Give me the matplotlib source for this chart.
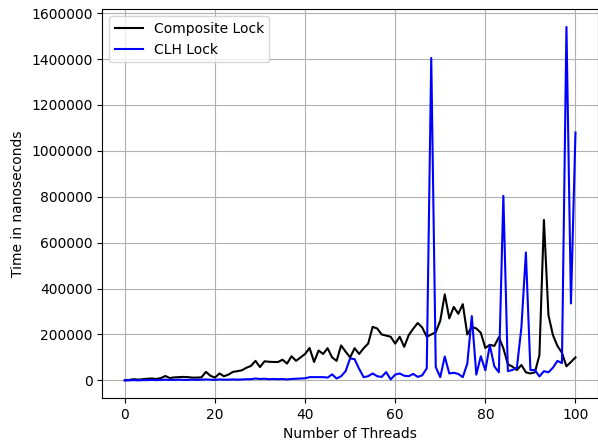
import matplotlib
matplotlib.use("Agg")
import matplotlib.pyplot as plt

# thread counts 0..100
threads = list(range(101))

# Composite Lock timings (ns)
composite = [
    0, 2000, 5000, 3000, 5000, 7000, 8000, 6000, 10000, 19000,
    10000, 13000, 14000, 15000, 14000, 12000, 12000, 13000, 37000, 20000,
    12000, 30000, 18000, 25000, 37000, 40000, 44000, 55000, 63000, 85000,
    58000, 83000, 81000, 80000, 80000, 90000, 73000, 105000, 85000, 100000,
    115000, 141000, 80000, 130000, 115000, 140000, 100000, 85000, 152000, 125000,
    100000, 140000, 115000, 140000, 160000, 233000, 226000, 200000, 195000, 190000,
    160000, 190000, 146000, 197000, 225000, 250000, 230000, 190000, 200000, 210000,
    260000, 375000, 270000, 320000, 290000, 332000, 200000, 233000, 226000, 207000,
    141000, 155000, 150000, 188000, 140000, 70000, 60000, 45000, 67000, 35000,
    30000, 35000, 110000, 699000, 285000, 197000, 150000, 120000, 61000, 80000,
    100000,
]

# CLH Lock timings (ns)
clh = [
    0, 0, 1000, 0, 1000, 1000, 2000, 1000, 2000, 3000,
    2000, 2000, 3000, 2000, 2000, 3000, 2000, 3000, 4000, 3000,
    2000, 4000, 3000, 3000, 4000, 3000, 4000, 5000, 5000, 8000,
    6000, 7000, 5000, 6000, 5000, 6000, 4000, 6000, 7000, 8000,
    9000, 14000, 14000, 14000, 14000, 12000, 26000, 8000, 18000, 40000,
    96000, 92000, 50000, 14000, 18000, 30000, 18000, 15000, 36000, 4000,
    25000, 30000, 20000, 18000, 28000, 15000, 22000, 52000, 1405000, 58000,
    14000, 104000, 30000, 33000, 28000, 14000, 73000, 280000, 25000, 105000,
    44000, 153000, 61000, 35000, 804000, 40000, 45000, 55000, 230000, 557000,
    45000, 45000, 17000, 40000, 35000, 55000, 85000, 75000, 1540000, 335000,
    1080000,
]

fig = plt.figure(figsize=(5.98, 4.42), dpi=100)
ax = fig.add_axes([0.171, 0.0995, 0.829, 0.8795])

ax.plot(threads, composite, color="black", linewidth=1.5, label="Composite Lock")
ax.plot(threads, clh, color="blue", linewidth=1.5, label="CLH Lock")

ax.set_xlabel("Number of Threads")
ax.set_ylabel("Time in nanoseconds")
ax.ticklabel_format(axis="y", style="plain", useOffset=False)
ax.set_yticks([0, 200000, 400000, 600000, 800000, 1000000, 1200000, 1400000, 1600000])
ax.grid(True, color="#b0b0b0", linewidth=0.8)
ax.legend(loc="upper left")

fig.savefig("out.png", dpi=100)
